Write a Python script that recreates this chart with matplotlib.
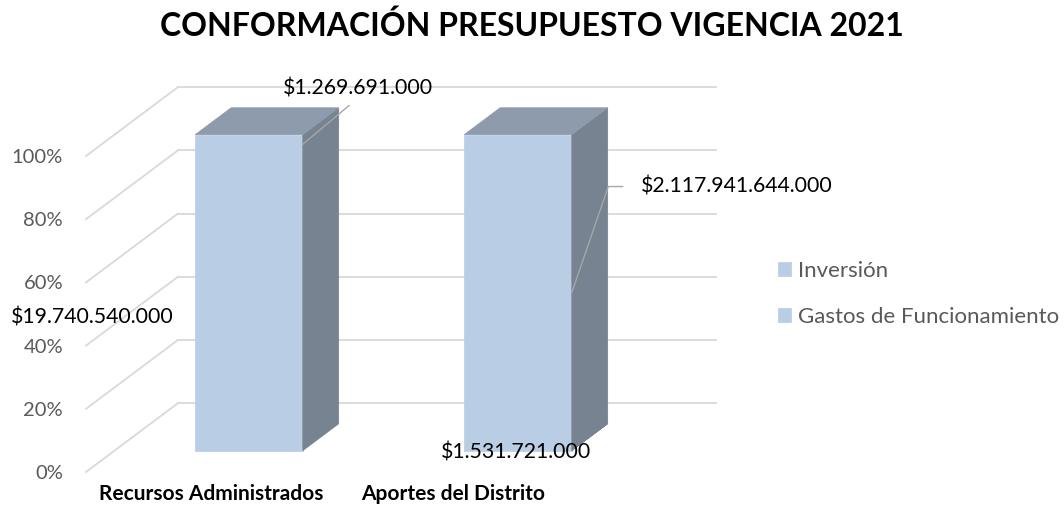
import matplotlib
matplotlib.use("Agg")
import matplotlib.pyplot as plt
import matplotlib.transforms as mtransforms
from matplotlib.patches import Polygon
import numpy as np

# --- DATOS ---
titulo = "CONFORMACIÓN PRESUPUESTO VIGENCIA 2021"
categorias = ["Recursos Administrados", "Aportes del Distrito"]
series = ["Gastos de Funcionamiento", "Inversión"]
gastos_funcionamiento = [19740540000, 1531721000]
inversion = [1269691000, 2117941644000]
ticks_pct = [0, 20, 40, 60, 80, 100]

# --- ESTILO ---
FRENTE = "#B9CDE5"
TAPA = "#8D9BAD"
LADO = "#778390"
GRILLA = "#D9D9D9"
GRIS_TEXTO = "#595959"
LINEA_GUIA = "#A6A6A6"

# profundidad "3D" en unidades de datos (x: categoria, y: %)
DX, DY = 0.342, 21.8
D0, D1 = 0.31, 0.70   # frente y fondo de las barras
ANCHO = 0.4
FS_TICKS = 14.5
FS_DATOS = 15.3
FS_CAT = 15
FS_LEY = 16


def pesos(v):
    # formato colombiano: $1.234.567
    return "$" + f"{v:,}".replace(",", ".")


plt.rcParams['font.family'] = ['Lato', 'DejaVu Sans']

gastos = np.array(gastos_funcionamiento, dtype=float)
inv = np.array(inversion, dtype=float)
total = gastos + inv
pct_g = gastos / total * 100
pct_i = inv / total * 100
x = np.arange(len(categorias))

fig = plt.figure(figsize=(10.64, 5.16), dpi=100)
ax = fig.add_axes([86 / 1064, 44 / 516, 538 / 1064, 316 / 516])
ax.set_xlim(-0.5, 1.5)
ax.set_ylim(0, 100)
for s in ax.spines.values():
    s.set_visible(False)

# --- EJES ---
ax.set_yticks(ticks_pct)
ax.set_yticklabels([f"{t}%" for t in ticks_pct])
ax.tick_params(axis='y', length=0, pad=16.5, labelsize=FS_TICKS, labelcolor=GRIS_TEXTO)
ax.set_xticks(x)
ax.set_xticklabels(categorias, fontweight='bold')
ax.tick_params(axis='x', length=0, pad=9, labelsize=FS_CAT)
# pequeños corrimientos de las etiquetas de categoria (como en Excel)
for lab, dx_px in zip(ax.get_xticklabels(), [-9, -36]):
    lab.set_transform(lab.get_transform() + mtransforms.Affine2D().translate(dx_px, 0))

# --- GRILLA (pared lateral + fondo) ---
for t in ticks_pct:
    ax.plot([-0.5, -0.5 + DX], [t, t + DY], color=GRILLA, lw=1.3, clip_on=False, zorder=1)
    ax.plot([-0.5 + DX, 1.5 + DX], [t + DY, t + DY], color=GRILLA, lw=1.3, clip_on=False, zorder=1)

# --- BARRAS (cara frontal) ---
xf = x + DX * D0
y0 = DY * D0
ax.bar(xf, pct_g, width=ANCHO, bottom=y0, color=FRENTE, edgecolor=FRENTE, lw=0.5,
       label=series[0], zorder=3, clip_on=False)
ax.bar(xf, pct_i, width=ANCHO, bottom=y0 + pct_g, color=FRENTE, edgecolor=FRENTE, lw=0.5,
       label=series[1], zorder=3, clip_on=False)

# caras lateral y superior
dd = D1 - D0
for i in range(len(categorias)):
    xl = xf[i] - ANCHO / 2
    xr = xf[i] + ANCHO / 2
    base = y0
    for alto in (pct_g[i], pct_i[i]):
        lado = Polygon([(xr, base), (xr + DX * dd, base + DY * dd),
                        (xr + DX * dd, base + alto + DY * dd), (xr, base + alto)],
                       closed=True, facecolor=LADO, edgecolor=LADO, lw=0.5, zorder=3, clip_on=False)
        ax.add_patch(lado)
        base += alto
    tapa = Polygon([(xl, base), (xr, base), (xr + DX * dd, base + DY * dd), (xl + DX * dd, base + DY * dd)],
                   closed=True, facecolor=TAPA, edgecolor=TAPA, lw=0.5, zorder=3, clip_on=False)
    ax.add_patch(tapa)

# --- ETIQUETAS DE DATOS ---
# Recursos Administrados
ax.annotate(pesos(gastos_funcionamiento[0]), xy=(xf[0], y0 + pct_g[0] / 2),
            xytext=(-157, -15), textcoords='offset pixels', ha='center', va='center',
            fontsize=FS_DATOS, color='black', zorder=5, annotation_clip=False)
ax.annotate(pesos(inversion[0]), xy=(xf[0] + ANCHO / 2, y0 + pct_g[0] + pct_i[0] / 2),
            xytext=(55, 56), textcoords='offset pixels', ha='center', va='center',
            fontsize=FS_DATOS, color='black', zorder=5, annotation_clip=False,
            arrowprops=dict(arrowstyle='-', color=LINEA_GUIA, lw=1, relpos=(0.5, 0),
                            shrinkA=5, shrinkB=0))
# Aportes del Distrito
ax.annotate(pesos(inversion[1]), xy=(xf[1] + ANCHO / 2, y0 + pct_g[1] + pct_i[1] / 2),
            xytext=(69, 106), textcoords='offset pixels', ha='left', va='center',
            fontsize=FS_DATOS, color='black', zorder=5, annotation_clip=False,
            arrowprops=dict(arrowstyle='-', color=LINEA_GUIA, lw=1, relpos=(0, 0.5),
                            connectionstyle='angle,angleA=0,angleB=71,rad=0',
                            shrinkA=11, shrinkB=0))
ax.annotate(pesos(gastos_funcionamiento[1]), xy=(xf[1], y0 + pct_g[1] / 2),
            xytext=(-2, -2), textcoords='offset pixels', ha='center', va='center',
            fontsize=FS_DATOS, color='black', zorder=5, annotation_clip=False)

# --- LEYENDA ---
h, l = ax.get_legend_handles_labels()
fig.legend(h[::-1], l[::-1], loc='center left', bbox_to_anchor=(778 / 1064, (516 - 294) / 516),
           frameon=False, fontsize=FS_LEY, labelcolor=GRIS_TEXTO, handlelength=0.6, handleheight=0.6,
           handletextpad=0.3, labelspacing=1.15, borderaxespad=0, borderpad=0)

# --- TITULO ---
fig.text(0.5, (516 - 26) / 516, titulo, ha='center', va='center', fontsize=23, fontweight='bold')

fig.savefig("out.png", dpi=100)
